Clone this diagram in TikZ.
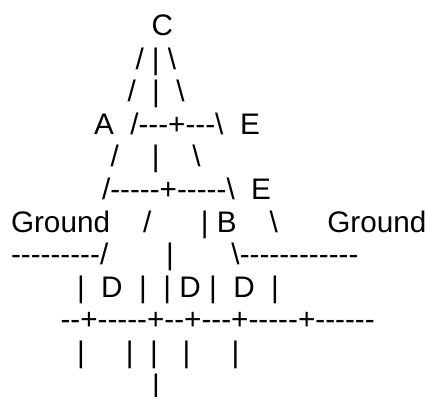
\documentclass[tikz,border=0pt]{standalone}
\usepackage{fontspec}
\newfontfamily\asciifont[Ligatures=NoCommon]{Liberation Sans}
\newcommand{\bsl}{\textbackslash}
\tikzset{art/.style={anchor=base west,inner sep=0pt,outer sep=0pt,text=black,font=\asciifont\fontsize{29.7}{32}\selectfont}}
\begin{document}
\begin{tikzpicture}[x=1pt,y=-1pt]
\useasboundingbox (0,0) rectangle (427,396);
\node[art] (l1) at (151.5,36) {C};
\node[art] (l2) at (135.5,69) {/~|~\bsl};
\node[art] (l3) at (127.5,101) {/~~|~~\bsl};
\node[art] (l4) at (94,134) {A~~/{-}{-}{-}+{-}{-}{-}\bsl~~E};
\node[art] (l5) at (110.5,166) {/~~~~|~~~~\bsl};
\node[art] (l6) at (102,199) {/{-}{-}{-}{-}{-}+{-}{-}{-}{-}{-}\bsl~~E};
\node[art] (l7) at (11,232) {Ground~~~~/~~~~~~|~B~~~~\bsl~~~~~~Ground};
\node[art] (l8) at (11,264) {{-}{-}{-}{-}{-}{-}{-}{-}{-}/~~~~~~~|~~~~~~~\bsl{-}{-}{-}{-}{-}{-}{-}{-}{-}{-}{-}{-}};
\node[art] (l9) at (77,297) {|~~D~~|~~|~D~|~~D~~|};
\node[art] (l10) at (60.5,329) {{-}{-}+{-}{-}{-}{-}{-}+{-}{-}+{-}{-}{-}+{-}{-}{-}{-}{-}+{-}{-}{-}{-}{-}{-}};
\node[art] (l11) at (77,362) {|~~~~~|~~|~~~|~~~~~|};
\node[art] (l12) at (152,395) {|};
\end{tikzpicture}
\end{document}
